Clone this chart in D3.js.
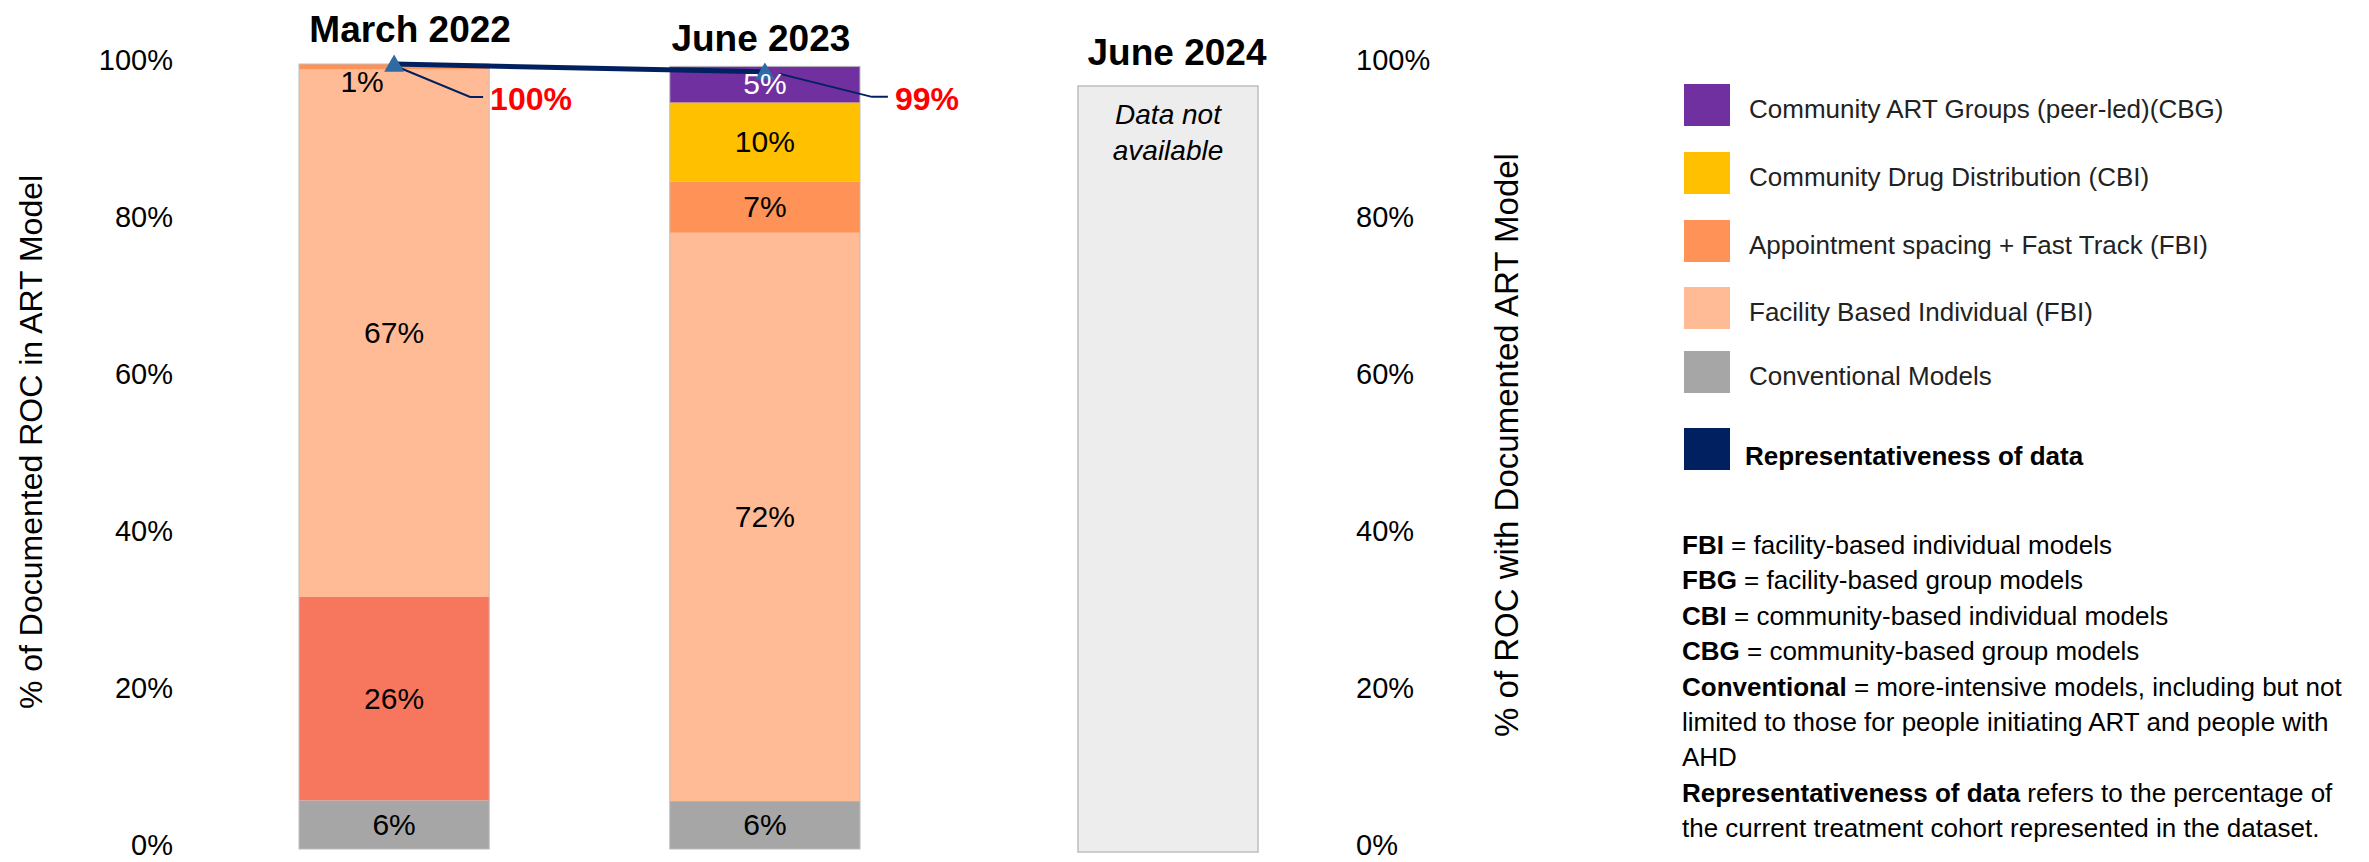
<!DOCTYPE html>
<html>
<head>
<meta charset="utf-8">
<script src="https://cdn.jsdelivr.net/npm/d3@7"></script>
<style>
  body { margin: 0; background: #fff; }
  text { font-family: "Liberation Sans", Arial, sans-serif; }
</style>
</head>
<body>
<svg id="mainFrame" width="2369" height="862"></svg>
<script>
// ---- data ----
const periods = ['March 2022', 'June 2023'];
const missingPeriod = 'June 2024';

const conventional       = [6.2, 6.1];
const unlabelledModel    = [25.9, 0];    // red segment, not listed in the legend
const facilityIndividual = [67.2, 72.4];
const appointmentSpacing = [0.7, 6.5];
const drugDistribution   = [0, 10.1];
const artGroups          = [0, 4.6];

const representativeness = [100, 99];
const yTicks = [0, 20, 40, 60, 80, 100];

const legendLabels = [
    'Community ART Groups (peer-led)(CBG)',
    'Community Drug Distribution (CBI)',
    'Appointment spacing + Fast Track (FBI)',
    'Facility Based Individual (FBI)',
    'Conventional Models'
];

const notes = [
    ['FBI', ' = facility-based individual models'],
    ['FBG', ' = facility-based group models'],
    ['CBI', ' = community-based individual models'],
    ['CBG', ' = community-based group models'],
    ['Conventional', ' = more-intensive models, including but not'],
    ['', 'limited to those for people initiating ART and people with'],
    ['', 'AHD'],
    ['Representativeness of data', ' refers to the percentage of'],
    ['', 'the current treatment cohort represented in the dataset.']
];

// ---- styles ----
const keys = ['conventional', 'unlabelled', 'fbi', 'spacing', 'cbi', 'cbg'];
const colors = {
    conventional: '#a6a6a6',
    unlabelled: '#f7775e',
    fbi: '#ffbb96',
    spacing: '#ff9257',
    cbi: '#ffc000',
    cbg: '#7030a0'
};
const legendColors = ['#7030a0', '#ffc000', '#ff9257', '#ffbb96', '#a6a6a6'];
const lineColor = '#002060';

const svg = d3.select('#mainFrame');

const render = () => {
    const rows = periods.map((p, i) => ({
        period: p,
        conventional: conventional[i],
        unlabelled: unlabelledModel[i],
        fbi: facilityIndividual[i],
        spacing: appointmentSpacing[i],
        cbi: drugDistribution[i],
        cbg: artGroups[i]
    }));
    const stacked = d3.stack().keys(keys)(rows);

    const yScale = d3.scaleLinear()
        .domain([0, 100])
        .range([849, 64]);

    const xScale = d3.scaleBand()
        .domain(periods)
        .range([299, 860])
        .paddingInner(0.487);

    const bw = xScale.bandwidth();
    const cx = p => xScale(p) + bw / 2;

    // left axis
    const yAxisLeft = d3.axisLeft(yScale)
        .tickValues(yTicks)
        .tickSize(0)
        .tickPadding(17)
        .tickFormat(d => d + '%');
    const leftG = svg.append('g')
        .attr('transform', 'translate(190,0)')
        .call(yAxisLeft);
    leftG.select('.domain').remove();
    leftG.selectAll('text')
        .attr('font-size', 29)
        .attr('dy', '0.2em')
        .attr('font-family', '"Liberation Sans", Arial, sans-serif')
        .attr('fill', '#000');

    // right axis
    const yAxisRight = d3.axisRight(yScale)
        .tickValues(yTicks)
        .tickSize(0)
        .tickPadding(16)
        .tickFormat(d => d + '%');
    const rightG = svg.append('g')
        .attr('transform', 'translate(1340,0)')
        .call(yAxisRight);
    rightG.select('.domain').remove();
    rightG.selectAll('text')
        .attr('font-size', 29)
        .attr('dy', '0.2em')
        .attr('font-family', '"Liberation Sans", Arial, sans-serif')
        .attr('fill', '#000');

    // axis titles
    svg.append('text')
        .attr('transform', 'translate(42,442) rotate(-90)')
        .attr('text-anchor', 'middle')
        .attr('font-family', '"Open Sans", sans-serif')
        .attr('font-size', 32)
        .text('% of Documented ROC in ART Model');

    svg.append('text')
        .attr('transform', 'translate(1518,445) rotate(-90)')
        .attr('text-anchor', 'middle')
        .attr('font-family', '"Open Sans", sans-serif')
        .attr('font-size', 33)
        .text('% of ROC with Documented ART Model');

    // stacked bars
    const layers = svg.append('g').selectAll('g').data(stacked)
        .enter().append('g')
            .attr('fill', d => colors[d.key]);

    layers.selectAll('rect').data(d => d)
        .enter().append('rect')
            .attr('x', d => xScale(d.data.period))
            .attr('y', d => yScale(d[1]))
            .attr('width', bw)
            .attr('height', d => yScale(d[0]) - yScale(d[1]));

    svg.append('g').selectAll('rect').data(rows)
        .enter().append('rect')
            .attr('x', d => xScale(d.period))
            .attr('y', (d, i) => yScale(d3.sum(keys, k => rows[i][k])))
            .attr('width', bw)
            .attr('height', (d, i) => yScale(0) - yScale(d3.sum(keys, k => rows[i][k])))
            .attr('fill', 'none')
            .attr('stroke', '#bdbdbd')
            .attr('stroke-width', 1);

    // placeholder for the period with no data
    const phX = 1078, phW = 180, phTop = 86;
    svg.append('rect')
        .attr('x', phX)
        .attr('y', phTop)
        .attr('width', phW)
        .attr('height', yScale(0) + 3 - phTop)
        .attr('fill', '#ededed')
        .attr('stroke', '#bfbfbf')
        .attr('stroke-width', 1.5);
    svg.append('text')
        .attr('x', phX + phW / 2)
        .attr('y', 124)
        .attr('text-anchor', 'middle')
        .attr('font-style', 'italic')
        .attr('font-size', 28)
        .selectAll('tspan').data(['Data not', 'available'])
        .enter().append('tspan')
            .attr('x', phX + phW / 2)
            .attr('dy', (d, i) => i ? 36 : 0)
            .text(d => d);

    // period titles
    const titleLayout = [{ x: cx(periods[0]) + 16, y: 42 }, { x: cx(periods[1]) - 4, y: 51 }, { x: phX + phW / 2 + 9, y: 65 }];
    svg.append('g').selectAll('text').data(periods.concat([missingPeriod]))
        .enter().append('text')
            .attr('x', (d, i) => titleLayout[i].x)
            .attr('y', (d, i) => titleLayout[i].y)
            .attr('text-anchor', 'middle')
            .attr('font-weight', 'bold')
            .attr('font-size', 37)
            .text(d => d);

    // representativeness line
    const line = d3.line()
        .x((d, i) => cx(periods[i]))
        .y(d => yScale(d));

    svg.append('path')
        .datum(representativeness)
        .attr('d', line)
        .attr('fill', 'none')
        .attr('stroke', lineColor)
        .attr('stroke-width', 5);

    // callout leaders
    const callouts = [
        { from: [6, 4], elbow: [76, 33], end: [89, 33], label: [96, 46] },
        { from: [15, 2], elbow: [107, 25], end: [123, 25], label: [130, 38] }
    ];
    representativeness.forEach((v, i) => {
        const px = cx(periods[i]), py = yScale(v), c = callouts[i];
        svg.append('path')
            .attr('d', d3.line()([
                [px + c.from[0], py + c.from[1]],
                [px + c.elbow[0], py + c.elbow[1]],
                [px + c.end[0], py + c.end[1]]
            ]))
            .attr('fill', 'none')
            .attr('stroke', lineColor)
            .attr('stroke-width', 2);
        svg.append('text')
            .attr('x', px + c.label[0])
            .attr('y', py + c.label[1])
            .attr('fill', '#ff0000')
            .attr('font-weight', 'bold')
            .attr('font-size', 32)
            .text(v + '%');
    });

    svg.append('g').selectAll('path').data(representativeness)
        .enter().append('path')
            .attr('transform', (d, i) => `translate(${cx(periods[i])},${yScale(d) + 2})`)
            .attr('d', d3.symbol(d3.symbolTriangle, 170))
            .attr('fill', '#2e6ba5');

    // segment labels
    const labels = [];
    stacked.forEach(layer => {
        layer.forEach(d => {
            const v = d[1] - d[0];
            if (v <= 0) return;
            labels.push({ key: layer.key, period: d.data.period, v, mid: (d[0] + d[1]) / 2 });
        });
    });
    svg.append('g').selectAll('text').data(labels)
        .enter().append('text')
            .attr('x', d => cx(d.period) - (d.v < 2 ? 32 : 0))
            .attr('y', d => d.v < 2 ? yScale(100) + 28 : yScale(d.mid) + 10)
            .attr('text-anchor', 'middle')
            .attr('font-size', 30)
            .attr('fill', d => d.key === 'cbg' ? '#ffffff' : '#000')
            .text(d => Math.round(d.v) + '%');

    // legend
    const legendY = [105, 173, 241, 308, 372];
    const legend = svg.append('g');
    legend.selectAll('rect').data(legendLabels)
        .enter().append('rect')
            .attr('x', 1684)
            .attr('y', (d, i) => legendY[i] - 21)
            .attr('width', 46)
            .attr('height', 42)
            .attr('fill', (d, i) => legendColors[i]);
    legend.selectAll('text').data(legendLabels)
        .enter().append('text')
            .attr('x', 1749)
            .attr('y', (d, i) => legendY[i] + 13)
            .attr('font-size', 26)
            .attr('fill', '#222')
            .text(d => d);

    legend.append('rect')
        .attr('x', 1684).attr('y', 428)
        .attr('width', 46).attr('height', 42)
        .attr('fill', lineColor);
    legend.append('text')
        .attr('x', 1745).attr('y', 465)
        .attr('font-size', 26)
        .attr('font-weight', 'bold')
        .text('Representativeness of data');

    // definitions
    const noteText = svg.append('g').selectAll('text').data(notes)
        .enter().append('text')
            .attr('x', 1682)
            .attr('y', (d, i) => 554 + i * 35.4)
            .attr('font-size', 26)
            .attr('fill', '#000');
    noteText.append('tspan')
        .attr('font-weight', 'bold')
        .text(d => d[0]);
    noteText.append('tspan')
        .text(d => d[1]);
};

render();
</script>
</body>
</html>
